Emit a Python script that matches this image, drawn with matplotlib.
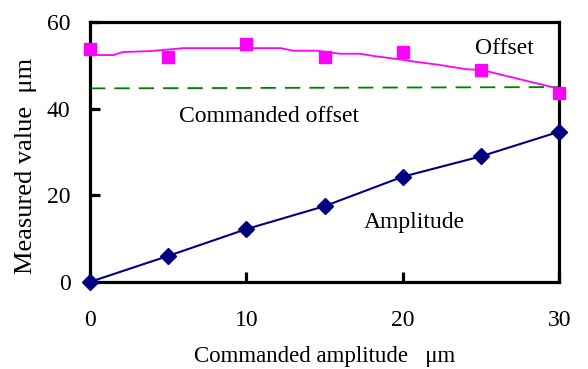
import matplotlib.pyplot as plt

plt.rcParams['font.family'] = ['Liberation Serif', 'DejaVu Serif']

# measured points
amp_x = [0, 5, 10, 15, 20, 25, 30]
amplitude = [0, 6.0, 12.2, 17.5, 24.3, 29.0, 34.7]
offset = [53.7, 52.0, 55.0, 52.0, 53.2, 49.0, 43.6]

# smoothed offset curve
curve_x = [0, 1.5, 2.1, 3.8, 6.0, 12.2, 13.0, 14.5, 16.0, 17.3, 18.1, 19.6, 20.9, 22.2, 24.1, 25.0, 30]
curve_y = [52.4, 52.4, 53.1, 53.3, 54.0, 54.0, 53.4, 53.4, 52.7, 52.7, 52.2, 51.5, 50.8, 50.2, 49.1, 49.0, 44.6]

# commanded offset
cmd_x = [0, 30]
cmd_y = [44.7, 45.0]

fig = plt.figure(figsize=(5.88, 3.69), dpi=100)
ax = fig.add_axes([0.153, 0.236, 0.798, 0.704])

ax.plot(curve_x, curve_y, color='#FF00FF', lw=1.3, clip_on=False)
ax.plot(amp_x, offset, 's', color='#FF00FF', ms=8.5, clip_on=False, zorder=5)
ax.plot(cmd_x, cmd_y, '--', color='#008000', lw=1.3, dashes=(8.5, 5))
ax.plot(amp_x, amplitude, '-D', color='#000080', lw=1.5, ms=8, clip_on=False, zorder=5)

ax.text(24.6, 52.6, 'Offset', fontsize=17, va='baseline')
ax.text(5.7, 36.9, 'Commanded offset', fontsize=17, va='baseline')
ax.text(17.5, 12.5, 'Amplitude', fontsize=17, va='baseline')

ax.set_xlim(0, 30)
ax.set_ylim(0, 60)
ax.set_xticks([0, 10, 20, 30])
ax.set_yticks([0, 20, 40, 60])
ax.tick_params(axis='x', direction='in', length=7, width=2.3, pad=20, labelsize=17)
ax.tick_params(axis='y', direction='in', length=7, width=2.3, pad=14, labelsize=17)
for s in ax.spines.values():
    s.set_linewidth(2.3)

ax.set_xlabel('Commanded amplitude   \u03bcm', fontsize=16.5, va='baseline')
ax.xaxis.set_label_coords(0.5, -0.31)
ax.set_ylabel('Measured value  \u03bcm', fontsize=19, va='center')
ax.yaxis.set_label_coords(-0.137, 0.446)

fig.savefig('out.png', dpi=100)
